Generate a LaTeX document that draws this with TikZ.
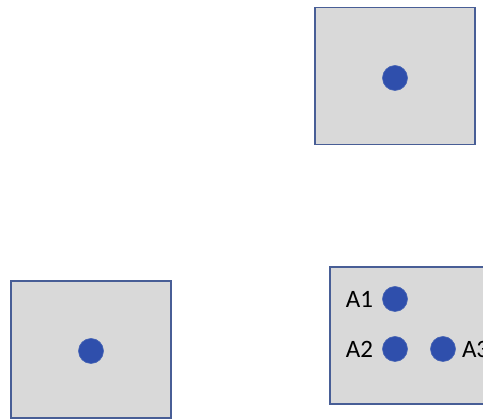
\documentclass[tikz,border=0pt]{standalone}
\usepackage{fontspec}
\setmainfont{Carlito}
\usepackage{tikz}
\usetikzlibrary{positioning}

\definecolor{boxgray}{RGB}{217,217,217}
\definecolor{boxline}{RGB}{72,94,150}
\definecolor{dotblue}{RGB}{47,79,172}
\definecolor{dotline}{RGB}{70,100,180}

\begin{document}
\begin{tikzpicture}[
  x=1pt,y=-1pt,
  node distance=6pt,
  panel/.style={rectangle,draw=boxline,line width=1.6pt,fill=boxgray,
    minimum width=160pt,minimum height=137pt,inner sep=0pt},
  point/.style={circle,fill=dotblue,draw=dotline,line width=0.6pt,
    minimum size=25pt,inner sep=0pt},
  tag/.style={font=\fontsize{25}{25}\selectfont,inner sep=1pt}
]
  \useasboundingbox (0,0) rectangle (483,419);
  \clip (0,0) rectangle (483,419);

  % three panels
  \node[panel] (top) at (395,76) {};
  \node[panel] (left) at (91,349.5) {};
  \node[panel] (right) at (410,335.5) {};

  % single points
  \node[point] (ptop) at (395,78) {};
  \node[point] (pleft) at (91,351) {};

  % labelled points
  \node[point] (a1) at (395,299) {};
  \node[point] (a2) at (395,349) {};
  \node[point] (a3) at (443,349) {};
  \node[tag,left=8pt of a1] (la1) {A1};
  \node[tag,left=8pt of a2] (la2) {A2};
  \node[tag,right=5pt of a3] (la3) {A3};
\end{tikzpicture}
\end{document}
